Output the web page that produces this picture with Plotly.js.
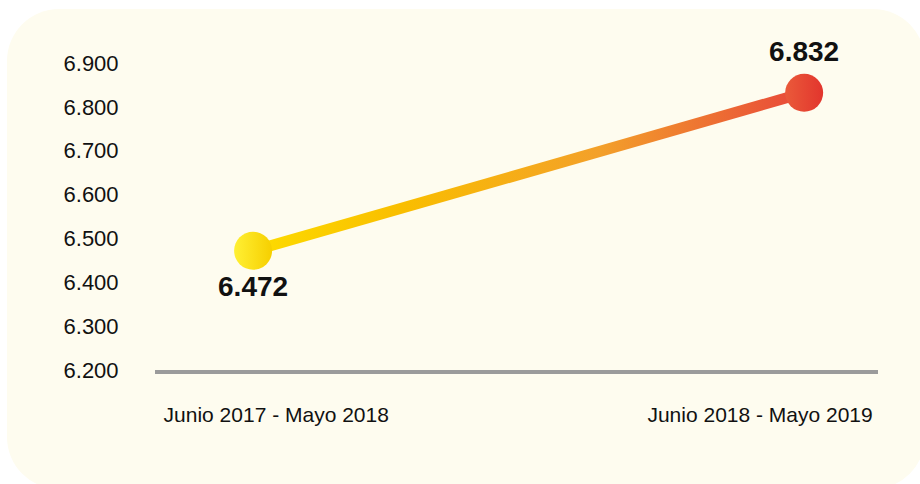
<!DOCTYPE html>
<html>
<head>
<meta charset="utf-8">
<script src="https://cdn.plot.ly/plotly-3.0.1.min.js"></script>
<style>
  html, body { margin: 0; padding: 0; background: #ffffff; }
  #wrap { position: relative; width: 920px; height: 484px; overflow: hidden; }
  #card {
    position: absolute; left: 7px; top: 9px; width: 918px; height: 480px;
    background: #fefcef; border-radius: 52px;
  }
  #chart { position: absolute; left: 0; top: 0; width: 920px; height: 484px; }
</style>
</head>
<body>
<div id="wrap">
  <div id="card"></div>
  <div id="chart"></div>
</div>
<script>
// Periods and values (thousands, Spanish separators)
const periods = ['Junio 2017 - Mayo 2018', 'Junio 2018 - Mayo 2019'];
const values = [6472, 6832];
const yTicks = [6200, 6300, 6400, 6500, 6600, 6700, 6800, 6900];

const xs = periods.map((p, i) => i);
const sans = 'Liberation Sans, Arial, sans-serif';

const lineTrace = {
    x: xs,
    y: values,
    mode: 'lines',
    type: 'scatter',
    line: { color: '#f5a623', width: 11 },
    hoverinfo: 'skip',
    cliponaxis: false
};

const pointTrace = {
    x: xs,
    y: values,
    mode: 'markers+text',
    type: 'scatter',
    text: values,
    texttemplate: '%{y:,}',
    textposition: ['bottom center', 'top center'],
    textfont: { family: sans, size: 28, color: '#111111', weight: 'bold' },
    marker: {
        size: 38,
        color: ['#fff034', '#ea5a3a'],
        gradient: { type: 'horizontal', color: ['#f6cf00', '#e2352d'] },
        line: { width: 0 }
    },
    cliponaxis: false
};

const layout = {
    width: 920,
    height: 484,
    paper_bgcolor: 'rgba(0,0,0,0)',
    plot_bgcolor: 'rgba(0,0,0,0)',
    separators: ',.',
    showlegend: false,
    font: { family: sans, color: '#111111', size: 21 },
    margin: { l: 155, r: 42, t: 63, b: 114 },
    xaxis: {
        range: [-0.178, 1.134],
        showgrid: false,
        zeroline: false,
        showline: true,
        linecolor: '#9b9b9b',
        linewidth: 4,
        tickvals: [0.042, 0.92],
        ticktext: periods,
        ticks: 'outside',
        ticklen: 23,
        tickcolor: 'rgba(0,0,0,0)',
        tickfont: { family: sans, size: 21 }
    },
    yaxis: {
        range: [6200, 6900],
        showgrid: false,
        zeroline: false,
        showline: false,
        tickvals: yTicks,
        tickformat: ',d',
        ticks: 'outside',
        ticklen: 31,
        tickcolor: 'rgba(0,0,0,0)',
        tickfont: { family: sans, size: 22 }
    },
    hovermode: false
};

Plotly.newPlot('chart', [lineTrace, pointTrace], layout, { displayModeBar: false, staticPlot: true }).then(gd => {
    // Plotly lines have no gradient stroke, so paint the drawn path with one
    const svg = gd.querySelector('svg.main-svg');
    const ns = 'http://www.w3.org/2000/svg';
    const defs = svg.querySelector('defs');
    const grad = document.createElementNS(ns, 'linearGradient');
    grad.setAttribute('id', 'lineGrad');
    grad.setAttribute('x1', '0'); grad.setAttribute('x2', '1');
    grad.setAttribute('y1', '0'); grad.setAttribute('y2', '0');
    [['0', '#fddc00'], ['0.27', '#f9be00'], ['0.63', '#f3a02a'], ['1', '#e8473a']].forEach(([o, c]) => {
        const s = document.createElementNS(ns, 'stop');
        s.setAttribute('offset', o);
        s.setAttribute('stop-color', c);
        grad.appendChild(s);
    });
    defs.appendChild(grad);
    const path = gd.querySelector('.scatterlayer .trace .js-line');
    if (path) path.style.stroke = 'url(#lineGrad)';
});
</script>
</body>
</html>
